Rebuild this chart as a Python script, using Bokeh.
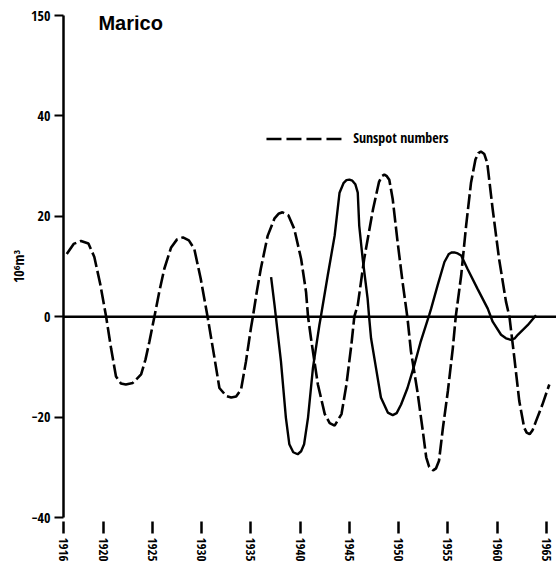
from bokeh.plotting import figure
from bokeh.models import FixedTicker, Span, Label
from bokeh.embed import file_html
from bokeh.resources import INLINE

# Sunspot numbers (scaled), dashed curve
sun_year = [1916.3, 1917.0, 1917.75, 1918.5, 1919.1, 1919.7, 1920.3, 1920.8, 1921.3, 1921.8, 1922.3,
            1923.0, 1923.85, 1924.3, 1924.7, 1925.2, 1925.7, 1926.2, 1926.9, 1927.5, 1928.1, 1928.7,
            1929.25, 1929.9, 1930.6, 1931.3, 1931.8, 1932.5, 1933.0, 1933.5, 1934.0, 1934.5, 1935.0,
            1935.2, 1935.6, 1936.0, 1936.7, 1937.4, 1937.8, 1938.2, 1938.8, 1939.4, 1940.1, 1940.6, 1940.8,
            1941.1, 1941.8, 1942.5, 1943.0, 1943.5, 1944.2, 1944.7, 1945.2, 1945.5, 1945.85, 1946.5,
            1947.4, 1948.0, 1948.3, 1948.55, 1948.8, 1949.05, 1949.4, 1949.9, 1950.4, 1950.9, 1951.25, 1951.9, 1952.45,
            1952.8, 1953.1, 1953.5, 1953.8, 1954.1, 1954.5, 1955.0, 1955.5, 1955.8, 1956.35, 1956.85,
            1957.35, 1957.8, 1958.1, 1958.35, 1958.7, 1959.0, 1959.55, 1960.2, 1960.9, 1961.25, 1961.75, 1962.25,
            1962.75, 1963.0, 1963.3, 1963.6, 1963.95, 1964.6, 1965.3]
sun_val = [12.5, 14.5, 15.1, 14.6, 11.9, 6.5, 0.0, -6.3, -11.9, -13.3, -13.5,
           -13.2, -11.5, -8.5, -4.9, 0.0, 5.0, 9.5, 13.8, 15.4, 15.8, 15.2,
           13.5, 7.6, 0.0, -8.2, -14.2, -15.8, -16.1, -15.9, -14.5, -8.9, -2.3,
           0.0, 5.0, 9.5, 16.1, 19.6, 20.5, 20.8, 20.2, 17.5, 11.5, 4.9, 0.0,
           -4.3, -13.5, -19.4, -21.2, -21.7, -19.4, -13.5, -5.6, 0.0, 2.3, 11.5,
           21.4, 26.8, 28.0, 28.3, 28.0, 27.3, 23.4, 14.8, 6.9, -0.3, -6.9, -14.8, -22.7,
           -28.0, -29.9, -30.6, -30.2, -28.7, -22.1, -14.8, -6.3, 0.0, 8.2, 18.1,
           26.7, 31.3, 32.6, 32.9, 32.4, 30.6, 21.4, 11.5, 3.0, 0.0, -8.2, -16.8,
           -22.1, -23.1, -23.4, -22.6, -20.8, -17.5, -13.5]

# Marico runoff, solid curve
run_year = [1937.05, 1937.4, 1937.55, 1938.05, 1938.55, 1938.9, 1939.3, 1939.75, 1940.1, 1940.4, 1940.8,
            1941.3, 1941.95, 1942.1, 1942.8, 1943.5, 1944.0, 1944.4, 1944.7, 1945.0, 1945.3, 1945.6, 1945.85, 1946.0,
            1946.35, 1946.85, 1947.0, 1947.2, 1947.7, 1948.2, 1948.9, 1949.4, 1949.8, 1950.25, 1950.9,
            1951.6, 1952.25, 1953.1, 1953.3, 1953.95, 1954.65, 1955.1, 1955.4, 1955.65, 1956.0, 1956.35, 1957.0, 1958.0,
            1959.05, 1959.55, 1960.4, 1960.9, 1961.4, 1961.8, 1962.1, 1963.1, 1963.95]
run_val = [7.9, 2.3, -0.3, -8.9, -20.1, -25.4, -27.0, -27.4, -26.8, -25.4, -20.1,
           -10.2, -1.7, 0.0, 8.2, 16.1, 24.7, 26.6, 27.2, 27.3, 27.1, 26.4, 24.7, 18.1,
           11.5, 3.6, 0.0, -4.3, -10.2, -16.1, -19.1, -19.6, -19.2, -17.5, -14.2,
           -9.6, -4.9, 0.3, 1.6, 6.2, 10.9, 12.5, 12.8, 12.8, 12.6, 12.2, 9.5, 5.6,
           1.6, -1.0, -3.6, -4.3, -4.6, -4.3, -3.6, -1.7, 0.3]

x_ticks = [1916, 1920, 1925, 1930, 1935, 1940, 1945, 1950, 1955, 1960, 1965]
y_ticks = [-40, -20, 0, 20, 40, 60]
y_tick_labels = {-40: "\u221240", -20: "\u221220", 0: "0", 20: "20", 40: "40", 60: "150"}

title_text = "Marico"
legend_text = "Sunspot numbers"
y_label = "10\u2076m\u00b3"

NARROW = "Open Sans Condensed"

p = figure(width=556, height=569, output_backend="svg", toolbar_location=None,
           x_range=(1915.97, 1966.03), y_range=(-40, 60),
           min_border_top=15, min_border_right=0, min_border_left=63, min_border_bottom=52)
p.outline_line_color = None
p.xgrid.visible = False
p.ygrid.visible = False
p.background_fill_color = "white"
p.border_fill_color = "white"

# y axis
ya = p.yaxis[0]
ya.ticker = FixedTicker(ticks=y_ticks)
ya.major_label_overrides = y_tick_labels
ya.axis_line_width = 2.5
ya.axis_line_color = "black"
ya.major_tick_line_color = "black"
ya.major_tick_line_width = 2
ya.major_tick_in = 0
ya.major_tick_out = 9
ya.minor_tick_line_color = None
ya.major_label_standoff = 4
ya.major_label_text_font = NARROW
ya.major_label_text_font_style = "bold"
ya.major_label_text_font_size = "14px"
ya.major_label_text_color = "black"
ya.axis_label = y_label
ya.axis_label_text_font = NARROW
ya.axis_label_text_font_style = "bold"
ya.axis_label_text_font_size = "14px"
ya.axis_label_text_color = "black"
ya.axis_label_standoff = 0

# x axis
xa = p.xaxis[0]
xa.ticker = FixedTicker(ticks=x_ticks)
xa.axis_line_color = None
xa.major_tick_line_color = "black"
xa.major_tick_line_width = 2.5
xa.major_tick_in = -4
xa.major_tick_out = 16
xa.minor_tick_line_color = None
xa.major_label_orientation = "vertical"
xa.major_label_standoff = 4
xa.major_label_text_font = NARROW
xa.major_label_text_font_style = "bold"
xa.major_label_text_font_size = "13px"
xa.major_label_text_color = "black"

# zero line
p.add_layout(Span(location=0, dimension="width", line_color="black", line_width=2.5))

# curves
p.line(sun_year, sun_val, line_color="black", line_width=2.6, line_dash="15 4")
p.line(run_year, run_val, line_color="black", line_width=2.4)

# legend (drawn manually)
p.line([1936.58, 1944.4], [35.4, 35.4], line_color="black", line_width=2.6, line_dash="15 5")
p.add_layout(Label(x=1945.38, y=35.6, text=legend_text, text_font=NARROW, text_font_style="bold",
                   text_font_size="14px", text_baseline="middle", text_color="black"))

# title
p.add_layout(Label(x=1919.52, y=58.6, text=title_text, text_font="Liberation Sans",
                   text_font_style="bold", text_font_size="20px", text_baseline="alphabetic",
                   text_color="black"))

open("out.html", "w").write(file_html(p, INLINE))
